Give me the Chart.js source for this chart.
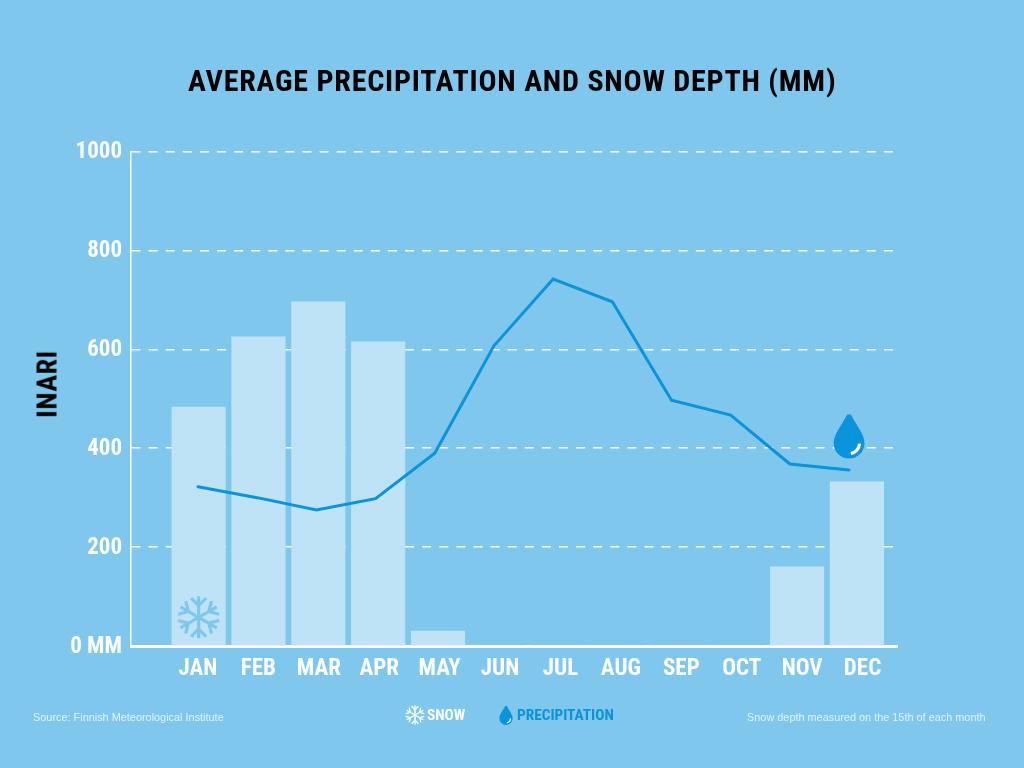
<!DOCTYPE html>
<html>
<head>
<meta charset="utf-8">
<style>
  html, body { margin: 0; padding: 0; background: #7fc7ec; }
  #wrap { position: relative; width: 1024px; height: 768px; overflow: hidden; }
  canvas#chart { position: absolute; left: 0; top: 0; }
  .t { position: absolute; white-space: nowrap; font-family: "Roboto Condensed"; font-weight: bold; }
  .note { position: absolute; white-space: nowrap; font: 10.9px "Liberation Sans"; color: #e3f3fb; top: 711px; }
  canvas.icon { position: absolute; }
</style>
</head>
<body>
<div id="wrap">
  <canvas id="chart" width="1024" height="768"></canvas>
  <div class="t" id="title" style="left:188px;top:63px;font-size:30px;letter-spacing:.78px;color:#000">AVERAGE PRECIPITATION AND SNOW DEPTH (MM)</div>
  <div class="t" id="place" style="left:47px;top:384px;font-size:28px;letter-spacing:.6px;color:#000;transform:translate(-50%,-50%) rotate(-90deg)">INARI</div>
  <div class="note" style="left:33px">Source: Finnish Meteorological Institute</div>
  <canvas class="icon" id="legendSnow" width="22" height="22" style="left:404px;top:704px"></canvas>
  <div class="t" style="left:427px;top:706px;font-size:15.3px;color:#fff">SNOW</div>
  <canvas class="icon" id="legendDrop" width="22" height="22" style="left:495px;top:704px"></canvas>
  <div class="t" style="left:517px;top:706px;font-size:15.3px;color:#0a94da">PRECIPITATION</div>
  <div class="note" style="left:747px">Snow depth measured on the 15th of each month</div>
</div>
<script src="https://cdn.jsdelivr.net/npm/chart.js@4/dist/chart.umd.js"></script>
<script>
const months = ['JAN', 'FEB', 'MAR', 'APR', 'MAY', 'JUN', 'JUL', 'AUG', 'SEP', 'OCT', 'NOV', 'DEC'];
const snow = [483, 625, 696, 615, 30, 0, 0, 0, 0, 0, 160, 332];
const precipitation = [322, 300, 275, 298, 390, 607, 742, 696, 497, 467, 368, 356];
const yTicks = [0, 200, 400, 600, 800, 1000];

const bgColor = '#7fc7ec';
const barColor = '#bee3f6';
const lineColor = '#0a94da';
const tickFont = { family: 'Roboto Condensed', weight: 'bold', size: 23 };

function drawFlake(ctx, cx, cy, r, color) {
    ctx.save();
    ctx.translate(cx, cy);
    ctx.strokeStyle = color;
    ctx.lineWidth = r * 0.15;
    for (var i = 0; i < 6; i++) {
        ctx.save();
        ctx.rotate(i * Math.PI / 3);
        ctx.beginPath();
        ctx.moveTo(0, 0);
        ctx.lineTo(0, -r);
        ctx.moveTo(-r * 0.36, -r * 0.92);
        ctx.lineTo(0, -r * 0.56);
        ctx.lineTo(r * 0.36, -r * 0.92);
        ctx.stroke();
        ctx.restore();
    }
    ctx.restore();
}

// h is the full height of the drop, tip to bottom
function drawDrop(ctx, cx, top, h) {
    var r = h * 0.35;
    var cy = top + h - r;
    ctx.save();
    ctx.fillStyle = lineColor;
    ctx.beginPath();
    ctx.moveTo(cx - h * 0.04, top);
    ctx.lineTo(cx + h * 0.04, top);
    ctx.bezierCurveTo(cx + r * 0.5, top + h * 0.25, cx + r, cy - r * 0.55, cx + r, cy);
    ctx.arc(cx, cy, r, 0, Math.PI);
    ctx.bezierCurveTo(cx - r, cy - r * 0.55, cx - r * 0.5, top + h * 0.25, cx - h * 0.04, top);
    ctx.fill();
    ctx.strokeStyle = '#fff';
    ctx.lineWidth = h * 0.07;
    ctx.lineCap = 'butt';
    ctx.beginPath();
    ctx.arc(cx, cy, r * 0.68, 0.05, 1.4);
    ctx.stroke();
    ctx.restore();
}

const iconPlugin = {
    id: 'icons',
    afterDatasetsDraw(chart) {
        const ctx = chart.ctx;
        const sx = chart.scales.xBar.getPixelForValue(0);
        const sy = chart.scales.y.getPixelForValue(58);
        drawFlake(ctx, sx, sy, 21, bgColor);
        const dx = chart.scales.xLine.getPixelForValue(11);
        const dy = chart.scales.y.getPixelForValue(468);
        drawDrop(ctx, dx, dy, 44);
    }
};

const el = document.getElementById('chart');
el.getContext('2d').letterSpacing = '0.6px';

new Chart(el, {
    type: 'bar',
    data: {
        datasets: [{
            type: 'line',
            data: precipitation.map((v, i) => ({ x: i, y: v })),
            xAxisID: 'xLine',
            borderColor: lineColor,
            borderWidth: 3,
            borderCapStyle: 'round',
            pointRadius: 0,
            tension: 0,
            order: 0
        }, {
            data: snow.map((v, i) => ({ x: i, y: v })),
            xAxisID: 'xBar',
            backgroundColor: barColor,
            barThickness: 53.5,
            grouped: false,
            order: 1
        }]
    },
    plugins: [iconPlugin],
    options: {
        responsive: false,
        animation: false,
        layout: { padding: { top: 151.5, right: 127, bottom: 0, left: 0 } },
        plugins: { legend: { display: false }, title: { display: false }, tooltip: { enabled: false } },
        scales: {
            x: {
                type: 'linear',
                bounds: 'data',
                offset: false,
                min: -1.109,
                max: 11.57,
                afterFit(scale) { scale.height = 122; },
                afterBuildTicks(scale) { scale.ticks = months.map((m, i) => ({ value: i })); },
                grid: { display: false },
                border: { color: '#fff', width: 3 },
                ticks: {
                    autoSkip: false,
                    maxRotation: 0,
                    padding: 1,
                    color: '#fff',
                    font: tickFont,
                    callback: (v) => months[v]
                }
            },
            xBar: { type: 'linear', bounds: 'data', offset: false, display: false, min: -1.13, max: 11.67 },
            xLine: { type: 'linear', bounds: 'data', offset: false, display: false, min: -1.132, max: 11.81 },
            y: {
                min: 0,
                max: 1000,
                afterFit(scale) { scale.width = 131; },
                afterBuildTicks(scale) { scale.ticks = yTicks.map(v => ({ value: v })); },
                border: { color: '#fff', width: 1.5, dash: [9, 8.1] },
                grid: {
                    color: (c) => c.tick && c.tick.value === 0 ? 'rgba(0,0,0,0)' : '#fff',
                    lineWidth: 1.5,
                    drawTicks: false
                },
                ticks: {
                    padding: 9,
                    labelOffset: 1,
                    color: '#fff',
                    font: tickFont,
                    callback: (v) => v === 0 ? '0 MM' : v
                }
            }
        }
    }
});

drawFlake(document.getElementById('legendSnow').getContext('2d'), 11, 11, 9.5, '#fff');
drawDrop(document.getElementById('legendDrop').getContext('2d'), 11, 2, 19);
</script>
</body>
</html>
